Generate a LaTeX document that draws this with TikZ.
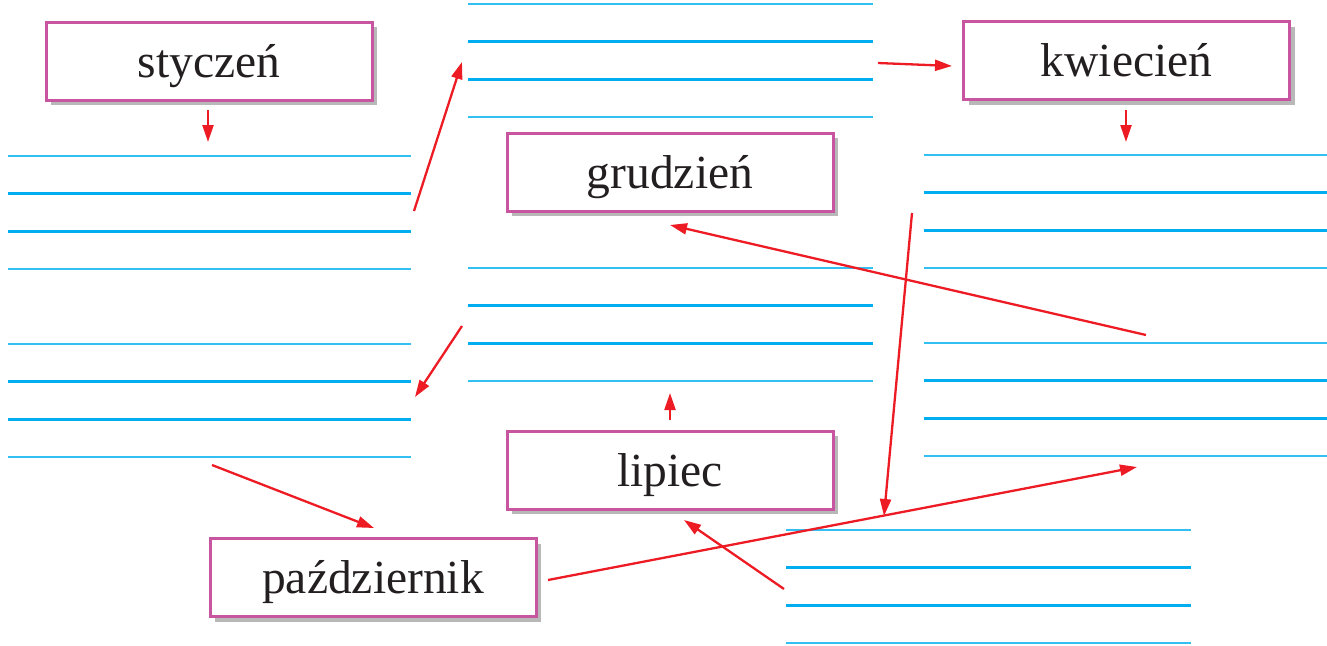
\documentclass[tikz,border=0pt]{standalone}
\usepackage{fontspec}
\setmainfont{Liberation Serif}
\usetikzlibrary{arrows.meta,shadows}
\definecolor{boxpink}{HTML}{C8559F}
\definecolor{ruleblue}{HTML}{00AEEF}
\definecolor{rulelight}{HTML}{33BFF2}
\definecolor{arrowred}{HTML}{ED1C24}
\definecolor{textdark}{HTML}{231F20}
\begin{document}
\begin{tikzpicture}[x=1pt,y=-1pt,
  month/.style={draw=boxpink, line width=3pt, fill=white,
    minimum width=326pt, minimum height=78pt, inner sep=0pt,
    text height=32pt, text depth=0pt,
    font=\fontsize{47.5}{52}\selectfont, text=textdark,
    drop shadow={shadow xshift=5pt, shadow yshift=-5pt, fill=black!28, opacity=1}},
  thinrule/.style={draw=rulelight, line width=1.5pt},
  thickrule/.style={draw=ruleblue, line width=3pt},
  redarrow/.style={draw=arrowred, line width=2.3pt,
    -{Triangle[length=17pt,width=11pt]}}]
\useasboundingbox (0,0) rectangle (1327,645);

% ruled writing areas
\foreach \xa/\xb/\yt in {8/411/156, 468/873/4, 924/1327/155, 8/411/344,
                         468/873/268, 924/1327/343, 786/1191/530}{
  \draw[thinrule]  (\xa,\yt) -- (\xb,\yt);
  \draw[thickrule] (\xa,{\yt+37.7}) -- (\xb,{\yt+37.7});
  \draw[thickrule] (\xa,{\yt+75.4}) -- (\xb,{\yt+75.4});
  \draw[thinrule]  (\xa,{\yt+113.1}) -- (\xb,{\yt+113.1});
}

% month boxes
\node[month] (sty) at (209,61)    {styczeń};
\node[month] (kwi) at (1126.5,60.5) {kwiecień};
\node[month] (gru) at (670,172)   {grudzień};
\node[month] (lip) at (670,470)   {lipiec};
\node[month] (paz) at (373,577.5) {październik};

% arrow end points in the ruled areas
\coordinate (a1s) at (208,110);  \coordinate (a1e) at (208,142);
\coordinate (a2s) at (414,211);  \coordinate (a2e) at (462,62);
\coordinate (a3s) at (878,63);   \coordinate (a3e) at (952,66);
\coordinate (a4s) at (1126,110); \coordinate (a4e) at (1126,142);
\coordinate (a5s) at (912,213);  \coordinate (a5e) at (884,516);
\coordinate (a6s) at (1146,335); \coordinate (a6e) at (670,225);
\coordinate (a7s) at (462,326);  \coordinate (a7e) at (415,397);
\coordinate (a8s) at (670,420);  \coordinate (a8e) at (670,393);
\coordinate (a9s) at (784,589);  \coordinate (a9e) at (684,520);
\coordinate (a10s) at (212,465); \coordinate (a10e) at (374,528);
\coordinate (a11s) at (548,580); \coordinate (a11e) at (1137,467);

\draw[redarrow] (a1s) -- (a1e);
\draw[redarrow] (a2s) -- (a2e);
\draw[redarrow] (a3s) -- (a3e);
\draw[redarrow] (a4s) -- (a4e);
\draw[redarrow] (a5s) -- (a5e);
\draw[redarrow] (a6s) -- (a6e);
\draw[redarrow] (a7s) -- (a7e);
\draw[redarrow] (a8s) -- (a8e);
\draw[redarrow] (a9s) -- (a9e);
\draw[redarrow] (a10s) -- (a10e);
\draw[redarrow] (a11s) -- (a11e);
\end{tikzpicture}
\end{document}
